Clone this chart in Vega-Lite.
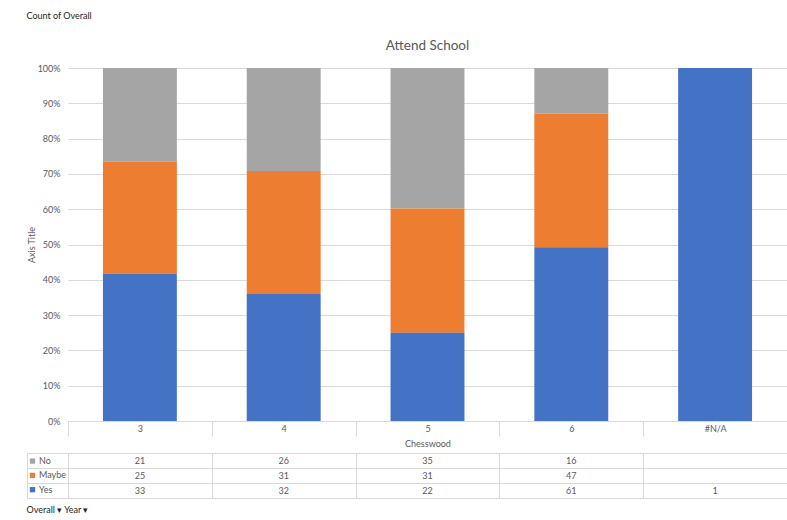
{
  "$schema": "https://vega.github.io/schema/vega-lite/v6.json",
  "padding": {"left": 26, "top": 11, "right": 0, "bottom": 0},
  "background": "white",
  "config": {
    "font": "Lato",
    "view": {"stroke": null},
    "axis": {"labelFont": "Lato", "titleFont": "Lato", "labelColor": "#595959", "titleColor": "#595959", "labelFontSize": 9, "titleFontSize": 9, "titleFontWeight": "normal", "gridColor": "#d9d9d9", "domainColor": "#d9d9d9", "tickColor": "#d9d9d9"},
    "legend": {"labelFont": "Lato"}
  },
  "datasets": {
    "counts": [
      {"cat": "3", "ans": "No", "n": 21, "k": 3},
      {"cat": "3", "ans": "Maybe", "n": 25, "k": 2},
      {"cat": "3", "ans": "Yes", "n": 33, "k": 1},
      {"cat": "4", "ans": "No", "n": 26, "k": 3},
      {"cat": "4", "ans": "Maybe", "n": 31, "k": 2},
      {"cat": "4", "ans": "Yes", "n": 32, "k": 1},
      {"cat": "5", "ans": "No", "n": 35, "k": 3},
      {"cat": "5", "ans": "Maybe", "n": 31, "k": 2},
      {"cat": "5", "ans": "Yes", "n": 22, "k": 1},
      {"cat": "6", "ans": "No", "n": 16, "k": 3},
      {"cat": "6", "ans": "Maybe", "n": 47, "k": 2},
      {"cat": "6", "ans": "Yes", "n": 61, "k": 1},
      {"cat": "#N/A", "ans": "Yes", "n": 1, "k": 1}
    ]
  },
  "title": {"text": "Count of Overall", "anchor": "start", "fontSize": 9, "fontWeight": "normal", "color": "#262626", "offset": 18},
  "spacing": 3,
  "resolve": {"scale": {"color": "independent"}, "legend": {"color": "independent"}},
  "vconcat": [
    {
      "width": 719,
      "height": 353,
      "data": {"name": "counts"},
      "title": {"text": "Attend School", "fontSize": 13.5, "fontWeight": "normal", "color": "#595959", "offset": 12},
      "mark": {"type": "bar", "width": {"band": 0.514}},
      "encoding": {
        "x": {
          "field": "cat", "type": "nominal", "sort": ["3", "4", "5", "6", "#N/A"],
          "scale": {"paddingInner": 0, "paddingOuter": 0},
          "axis": {"title": "Chesswood", "labelAngle": 0, "tickBand": "extent", "tickSize": 15, "labelPadding": -12, "titlePadding": 3}
        },
        "y": {
          "field": "n", "type": "quantitative", "stack": "normalize",
          "axis": {"title": "Axis Title", "format": ".0%", "values": [0, 0.1, 0.2, 0.3, 0.4, 0.5, 0.6, 0.7, 0.8, 0.9, 1], "grid": true, "domain": false, "ticks": false, "labelPadding": 8, "titlePadding": 1}
        },
        "color": {
          "field": "ans", "type": "nominal",
          "scale": {"domain": ["No", "Maybe", "Yes"], "range": ["#a5a5a5", "#ed7d31", "#4472c4"]},
          "legend": null
        },
        "order": {"field": "k", "type": "quantitative"}
      }
    },
    {
      "width": 719,
      "height": 45,
      "data": {"name": "counts"},
      "title": {"text": "Overall ▾   Year ▾", "orient": "bottom", "anchor": "start", "fontSize": 9, "fontWeight": "normal", "color": "#262626", "offset": 7},
      "encoding": {
        "x": {
          "field": "cat", "type": "nominal", "sort": ["3", "4", "5", "6", "#N/A"],
          "scale": {"paddingInner": 0, "paddingOuter": 0},
          "axis": {"title": null, "labels": false, "ticks": false, "domain": false, "grid": true, "tickBand": "extent"}
        },
        "y": {
          "field": "ans", "type": "nominal",
          "scale": {"domain": ["No", "Maybe", "Yes"], "paddingInner": 0, "paddingOuter": 0},
          "axis": {"title": null, "labels": false, "ticks": true, "tickSize": -41, "offset": 41, "domain": true, "grid": true, "tickBand": "extent"}
        }
      },
      "layer": [
        {
          "mark": {"type": "rect", "opacity": 0},
          "encoding": {
            "color": {
              "field": "ans", "type": "nominal",
              "scale": {"domain": ["No", "Maybe", "Yes"], "range": ["#a5a5a5", "#ed7d31", "#4472c4"]},
              "legend": {"orient": "none", "legendX": -40, "legendY": 3.6, "title": null, "symbolType": "square", "symbolSize": 28, "labelFontSize": 9, "labelColor": "#595959", "rowPadding": 4.3, "padding": 0, "symbolOpacity": 1, "symbolStrokeWidth": 0, "labelOffset": 2}
            }
          }
        },
        {
          "mark": {"type": "text", "fontSize": 9, "color": "#595959"},
          "encoding": {"text": {"field": "n", "type": "quantitative"}}
        }
      ]
    }
  ]
}
